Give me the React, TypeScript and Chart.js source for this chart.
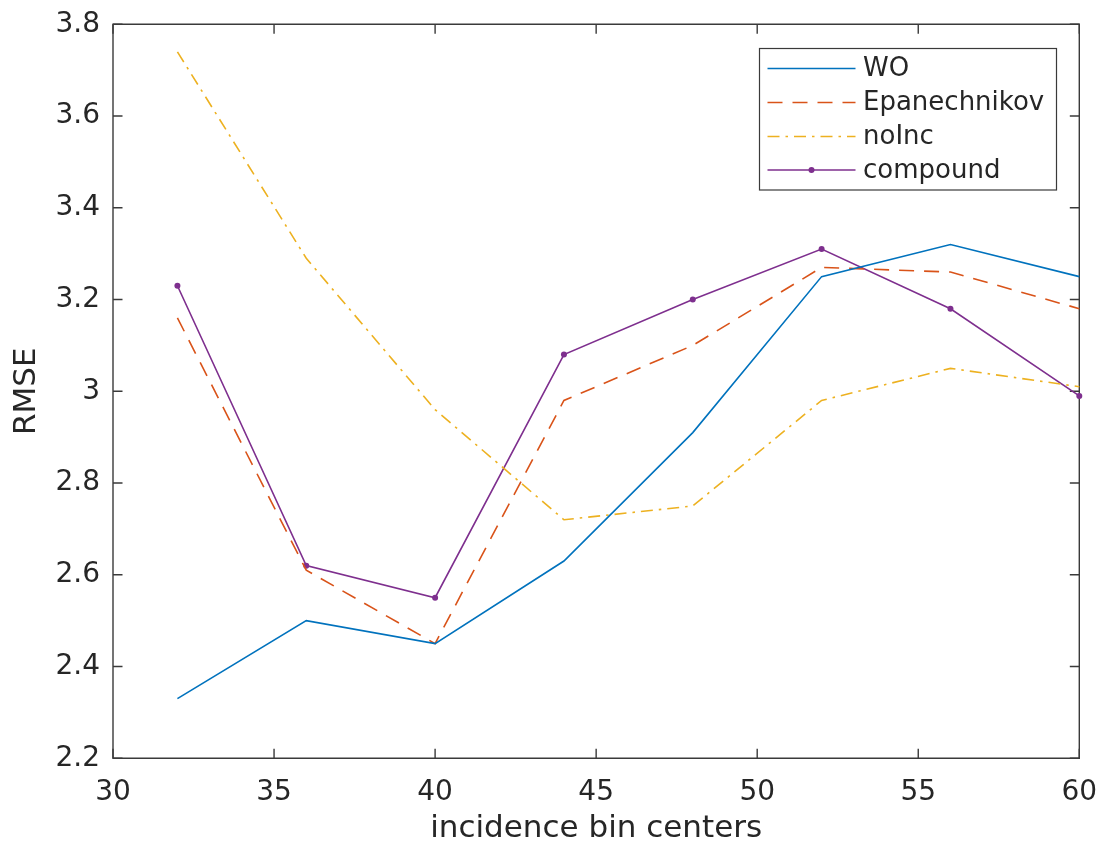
import React, { useEffect, useRef } from "react";
import { Chart, registerables } from "chart.js";

Chart.register(...registerables);

const xCenters = [32, 36, 40, 44, 48, 52, 56, 60];
const woValues = [2.33, 2.5, 2.45, 2.63, 2.91, 3.25, 3.32, 3.25];
const epanValues = [3.16, 2.61, 2.45, 2.98, 3.1, 3.27, 3.26, 3.18];
const noIncValues = [3.74, 3.29, 2.96, 2.72, 2.75, 2.98, 3.05, 3.01];
const compoundValues = [3.23, 2.62, 2.55, 3.08, 3.2, 3.31, 3.18, 2.99];
const seriesLabels = ["WO", "Epanechnikov", "noInc", "compound"];

const FONT = "'DejaVu Sans', sans-serif";
const AXIS_COLOR = "#3a3a3a";
const TEXT_COLOR = "#262626";

const toPoints = (vals: number[]) => xCenters.map((x, i) => ({ x, y: vals[i] }));

const boxPlugin = {
  id: "matlabBox",
  beforeDatasetsDraw(chart: any) {
    const { ctx, chartArea } = chart;
    const { left, right, top, bottom } = chartArea;
    const xs = chart.scales.x;
    const ys = chart.scales.y;
    const tl = 9.5;
    ctx.save();
    ctx.strokeStyle = AXIS_COLOR;
    ctx.lineWidth = 1.4;
    ctx.beginPath();
    ctx.rect(left, top, right - left, bottom - top);
    ctx.stroke();
    ctx.beginPath();
    xs.ticks.forEach((t: any) => {
      const px = xs.getPixelForValue(t.value);
      ctx.moveTo(px, bottom);
      ctx.lineTo(px, bottom - tl);
      ctx.moveTo(px, top);
      ctx.lineTo(px, top + tl);
    });
    ys.ticks.forEach((t: any) => {
      const py = ys.getPixelForValue(t.value);
      ctx.moveTo(left, py);
      ctx.lineTo(left + tl, py);
      ctx.moveTo(right, py);
      ctx.lineTo(right - tl, py);
    });
    ctx.stroke();
    ctx.restore();
  },
  afterDatasetsDraw(chart: any) {
    const { ctx } = chart;
    const bx = 759.5;
    const by = 48.5;
    const bw = 297;
    const bh = 141.5;
    ctx.save();
    ctx.fillStyle = "#ffffff";
    ctx.fillRect(bx, by, bw, bh);
    ctx.strokeStyle = AXIS_COLOR;
    ctx.lineWidth = 1.2;
    ctx.strokeRect(bx, by, bw, bh);
    const rowY = [68.5, 102.5, 136.5, 170];
    chart.data.datasets.forEach((ds: any, i: number) => {
      const y = rowY[i];
      ctx.save();
      ctx.strokeStyle = ds.borderColor;
      ctx.lineWidth = ds.borderWidth;
      ctx.setLineDash(ds.borderDash || []);
      ctx.beginPath();
      ctx.moveTo(767.5, y);
      ctx.lineTo(855.5, y);
      ctx.stroke();
      ctx.restore();
      if (ds.pointRadius > 0) {
        ctx.fillStyle = ds.borderColor;
        ctx.beginPath();
        ctx.arc(811.5, y, ds.pointRadius, 0, Math.PI * 2);
        ctx.fill();
      }
      ctx.fillStyle = TEXT_COLOR;
      ctx.font = `26px ${FONT}`;
      ctx.textBaseline = "middle";
      ctx.textAlign = "left";
      ctx.fillText(ds.label, 863, y + 1);
    });
    ctx.restore();
  },
};

export default function App() {
  const ref = useRef<HTMLCanvasElement | null>(null);

  useEffect(() => {
    document.body.style.margin = "0";
    if (!ref.current) return;
    const mk = (label: string, vals: number[], color: string, dash: number[], radius: number) => ({
      label,
      data: toPoints(vals),
      borderColor: color,
      backgroundColor: color,
      borderWidth: 1.6,
      borderDash: dash,
      pointRadius: radius,
      pointHoverRadius: radius,
      pointBorderWidth: 0,
      pointBackgroundColor: color,
      tension: 0,
      fill: false,
      clip: false as any,
    });
    const chart = new Chart(ref.current, {
      type: "line",
      data: {
        datasets: [
          mk(seriesLabels[0], woValues, "#0072BD", [], 0),
          mk(seriesLabels[1], epanValues, "#D95319", [15, 10], 0),
          mk(seriesLabels[2], noIncValues, "#EDB120", [12, 6, 2.5, 6], 0),
          mk(seriesLabels[3], compoundValues, "#7E2F8E", [], 3),
        ],
      },
      options: {
        animation: false,
        responsive: false,
        maintainAspectRatio: false,
        events: [],
        layout: { padding: { top: 24.3, right: 20.7, bottom: 0, left: 0 } },
        plugins: {
          legend: { display: false },
          tooltip: { enabled: false },
        },
        scales: {
          x: {
            type: "linear",
            min: 30,
            max: 60,
            border: { display: false },
            grid: { display: false, drawTicks: false },
            ticks: {
              stepSize: 5,
              color: TEXT_COLOR,
              font: { family: FONT, size: 28 },
              padding: 18,
              maxRotation: 0,
            },
            title: {
              display: true,
              text: "incidence bin centers",
              color: TEXT_COLOR,
              font: { family: FONT, size: 31 },
              padding: { top: 0, bottom: -4 },
            },
            afterFit: (s: any) => {
              s.height = 844 - 758.3;
              s.paddingLeft = 0;
              s.paddingRight = 0;
            },
          },
          y: {
            type: "linear",
            min: 2.2,
            max: 3.8,
            border: { display: false },
            grid: { display: false, drawTicks: false },
            ticks: {
              stepSize: 0.2,
              color: TEXT_COLOR,
              font: { family: FONT, size: 28 },
              padding: 13,
              callback: (v: any) => String(Math.round(Number(v) * 10) / 10),
            },
            title: {
              display: true,
              text: "RMSE",
              color: TEXT_COLOR,
              font: { family: FONT, size: 31 },
              padding: { top: 8, bottom: 0 },
            },
            afterFit: (s: any) => {
              s.width = 113;
              s.paddingTop = 0;
              s.paddingBottom = 0;
            },
          },
        },
      },
      plugins: [boxPlugin],
    });
    return () => chart.destroy();
  }, []);

  return (
    <div style={{ position: "absolute", left: 0, top: 0, width: 1100, height: 844, background: "#fff" }}>
      <canvas ref={ref} width={1100} height={844} style={{ width: 1100, height: 844, display: "block" }} />
    </div>
  );
}
